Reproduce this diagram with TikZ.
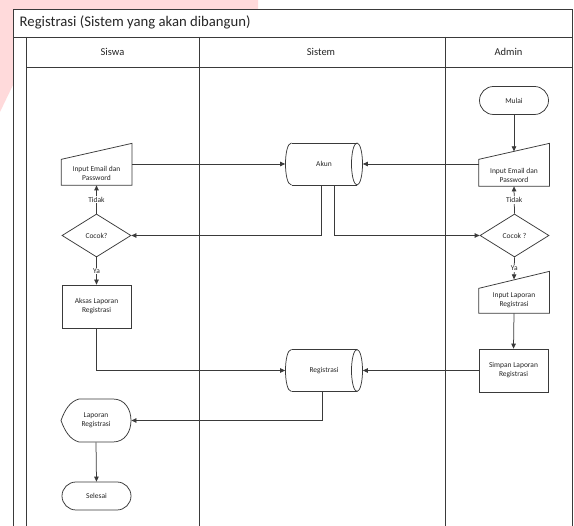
\documentclass[tikz,border=0pt]{standalone}
\usepackage{fontspec}
\setmainfont{Carlito}
\usetikzlibrary{shapes.geometric,arrows.meta,calc}
\definecolor{ln}{HTML}{3A3A3A}
\definecolor{pinkbg}{HTML}{FFDADB}
\begin{document}
\begin{tikzpicture}[x=1pt,y=-1pt,
  line width=0.75pt,
  every node/.style={text=black!85},
  small/.style={font=\fontsize{7.5}{9}\selectfont, align=center},
  conn/.style={draw=ln, -{Triangle[length=5pt,width=4.5pt]}},
  frame/.style={draw=ln, line width=0.7pt},
  boxnode/.style={small, draw=ln, rectangle, minimum width=69pt, minimum height=43pt, inner sep=0pt},
  term/.style={small, draw=ln, rectangle, rounded corners=14pt, minimum width=69pt, minimum height=28pt, inner sep=0pt},
  dia/.style={small, draw=ln, diamond, minimum width=69pt, minimum height=43pt, inner sep=0pt},
  db/.style={small, rectangle, minimum width=77pt, minimum height=42pt, inner sep=0pt},
  ghost/.style={small, rectangle, minimum width=70pt, inner sep=0pt},
  lbl/.style={font=\fontsize{7.5}{9}\selectfont, fill=white, inner sep=1pt},
  dbshape/.pic={
    \draw[ln] (-32.5,-21) -- (33,-21);
    \draw[ln] (-32.5,21) -- (33,21);
    \draw[ln] (-32.5,-21) .. controls (-40.5,-21) and (-40.5,21) .. (-32.5,21);
    \draw[ln] (33,0) ellipse [x radius=5.5, y radius=21];
  }
]
\useasboundingbox (0,0) rectangle (574,526);
% pink background remnant
\fill[pinkbg] (0,0) -- (258,0) -- (258,9) -- (13,9) -- (13,85) -- (0,112) -- cycle;
\fill[white] (13,9) rectangle (572,526);
% frame and lanes
\draw[frame] (13,526) -- (13,9) -- (572,9) -- (572,526);
\draw[frame] (13,37) -- (572,37);
\draw[frame] (26,37) -- (26,526);
\draw[frame] (26,67) -- (572,67);
\draw[frame] (199,37) -- (199,526);
\draw[frame] (445,37) -- (445,526);
\node[anchor=west, font=\fontsize{14.7}{17}\selectfont] (title) at (16,22) {Registrasi (Sistem yang akan dibangun)};
\node[font=\fontsize{10.5}{12}\selectfont] (hsiswa) at (112.5,52) {Siswa};
\node[font=\fontsize{10.5}{12}\selectfont] (hsistem) at (321,52) {Sistem};
\node[font=\fontsize{10.5}{12}\selectfont] (hadmin) at (508.5,52) {Admin};

% Siswa lane
\node[ghost, minimum height=24pt] (sin) at (96.5,173) {Input Email dan\\Password};
\draw[ln] (sin.south west) -- (sin.south east) -- ($(sin.south east)+(0,-42)$) -- ($(sin.south west)+(0,-26)$) -- cycle;
\node[dia] (cs) at (96.5,235.5) {Cocok?};
\node[boxnode] (aks) at (96.5,306.5) {Aksas Laporan\\Registrasi};
\node[ghost, minimum height=43pt] (lap) at (96,420.5) {Laporan\\Registrasi};
\begin{scope}[shift={(lap.center)}]
\draw[ln] (-35,0) .. controls (-31,-11) and (-26,-19) .. (-17,-21.5) -- (17,-21.5)
  .. controls (29,-21.5) and (35,-11) .. (35,0)
  .. controls (35,11) and (29,21.5) .. (17,21.5) -- (-17,21.5)
  .. controls (-26,19) and (-31,11) .. (-35,0) -- cycle;
\end{scope}
\node[term] (sel) at (96.5,496) {Selesai};

% Sistem lane
\node[db] (akun) at (324,164) {Akun};
\pic at (akun.center) {dbshape};
\node[db] (reg) at (324,370.5) {Registrasi};
\pic at (reg.center) {dbshape};

% Admin lane
\node[term] (mulai) at (514,100.5) {Mulai};
\node[ghost, minimum height=22pt] (ain) at (514,175) {Input Email dan\\Password};
\draw[ln] (ain.south west) -- (ain.south east) -- ($(ain.south east)+(0,-43)$) -- ($(ain.south west)+(0,-27)$) -- cycle;
\node[dia] (ca) at (514.5,235.5) {Cocok ?};
\node[ghost, minimum height=25pt] (ilap) at (514,300.5) {Input Laporan\\Registrasi};
\draw[ln] (ilap.south west) -- (ilap.south east) -- ($(ilap.south east)+(0,-42)$) -- ($(ilap.south west)+(0,-25)$) -- cycle;
\node[boxnode] (simp) at (513.5,370.5) {Simpan Laporan\\Registrasi};

% connectors
\draw[conn] (mulai) -- ($(ain.south)+(0,-35)$);
\draw[conn] (sin.east |- akun.west) -- (akun.west);
\draw[conn] (ain.west |- akun.east) -- (akun.east);
\draw[conn] ($(akun.south)+(-3,0)$) |- (cs.east);
\draw[conn] ($(akun.south)+(10,0)$) |- (ca.west);
\draw[conn] (cs.north) -- (sin.south) node[lbl, midway] {Tidak};
\draw[conn] (cs.south) -- (aks.north) node[lbl, midway] {Ya};
\draw[conn] (ca.north) -- (ain.south) node[lbl, midway] {Tidak};
\draw[conn] (ca.south) -- ($(ilap.south)+(0,-34)$) node[lbl, midway] {Ya};
\draw[conn] (ilap.south) -- (simp.north);
\draw[conn] (aks.south) |- (reg.west);
\draw[conn] (simp.west) -- (reg.east);
\draw[conn] ($(reg.south)+(-2,0)$) |- (lap.east);
\draw[conn] (lap.south) -- (sel.north);
\end{tikzpicture}
\end{document}
